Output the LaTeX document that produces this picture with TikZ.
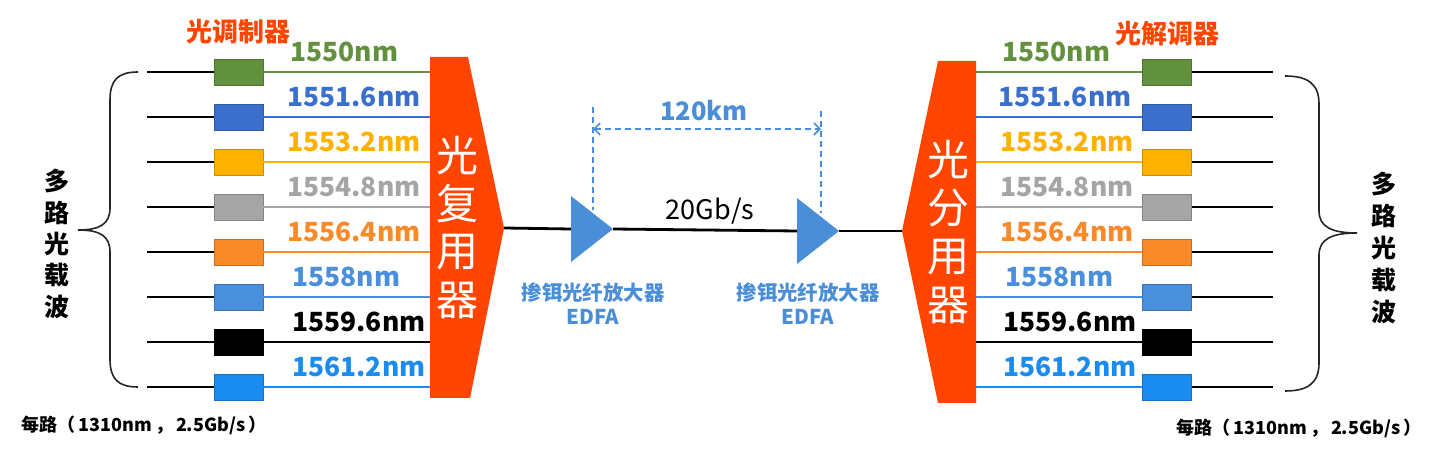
\documentclass[tikz,border=0pt]{standalone}
\usepackage{fontspec}
\setmainfont{Noto Sans CJK SC}
\usetikzlibrary{arrows.meta}
\definecolor{cgreen}{HTML}{62913E}
\definecolor{cblue}{HTML}{3A6FCC}
\definecolor{cyellow}{HTML}{FFB100}
\definecolor{cgray}{HTML}{A5A5A5}
\definecolor{corange}{HTML}{FA8A28}
\definecolor{clblue}{HTML}{4A8FDB}
\definecolor{cblack}{HTML}{000000}
\definecolor{cbblue}{HTML}{1A8CF0}
\definecolor{cred}{HTML}{FF4500}
\definecolor{cedfa}{HTML}{4A8ED8}
\tikzset{
  box/.style={minimum width=24.5pt,minimum height=13pt,inner sep=0pt,line width=0.4pt},
  blk/.style={line width=1.4pt,black},
  wl/.style={font=\bfseries\fontsize{13.2}{15}\selectfont,inner sep=0pt},
  muxtxt/.style={font=\fontsize{21}{22}\selectfont,text=white,inner sep=0pt},
  vtxt/.style={font=\bfseries\fontsize{12.5}{13}\selectfont,inner sep=0pt},
  modtxt/.style={font=\bfseries\fontsize{13}{14}\selectfont,text=cred,inner sep=0pt},
  edfatxt/.style={font=\bfseries\fontsize{10.2}{11}\selectfont,text=cedfa,inner sep=0pt},
  dim/.style={cedfa,line width=0.8pt,dash pattern=on 3pt off 2pt},
  bottxt/.style={font=\bfseries\fontsize{9}{10}\selectfont,inner sep=0pt},
  brc/.style={line width=0.8pt,black!85}
}
\begin{document}
\begin{tikzpicture}[x=0.5pt,y=-0.5pt]
\useasboundingbox (0,0) rectangle (1440,453);
\fill[white] (0,0) rectangle (1440,453);
% multiplexer and demultiplexer
\fill[cred] (430,57) -- (468,57) -- (504,228) -- (470,398) -- (430,398) -- cycle;
\coordinate (muxtip) at (504,228);
\fill[cred] (938,61) -- (976,61) -- (976,403) -- (938,403) -- (902,231) -- cycle;
\coordinate (dmxtip) at (902,231);
\foreach \c/\yy in {光/156,复/204,用/252,器/300} \node[muxtxt] at (457,\yy) {\c};
\foreach \c/\yy in {光/160,分/208,用/257,器/305} \node[muxtxt] at (948,\yy) {\c};
% rows
\foreach \i/\col/\lab/\lx/\rx in {0/cgreen/1550nm/290/1002,1/cblue/1551.6nm/287/998,2/cyellow/1553.2nm/287/1000,3/cgray/1554.8nm/287/1000,4/corange/1556.4nm/287/1000,5/clblue/1558nm/292/1005,6/cblack/1559.6nm/292/1003,7/cbblue/1561.2nm/292/1003}{
  \pgfmathsetmacro\yy{72+45*\i}
  \node[box,fill=\col,draw=\col!80!black] (bl\i) at (238.5,\yy) {};
  \coordinate (sl\i) at (147,\yy);
  \coordinate (ml\i) at (430,\yy);
  \draw[blk] (sl\i) -- (bl\i.west);
  \draw[line width=1.1pt,\col] (bl\i.east) -- (ml\i);
  \node[wl,text=\col,anchor=base west] (ll\i) at (\lx,\yy-10) {\lab};
  \node[box,fill=\col,draw=\col!80!black] (br\i) at (1167,\yy) {};
  \coordinate (mr\i) at (976,\yy);
  \coordinate (er\i) at (1273,\yy);
  \draw[line width=1.1pt,\col] (mr\i) -- (br\i.west);
  \draw[blk] (br\i.east) -- (er\i);
  \node[wl,text=\col,anchor=base west] (lr\i) at (\rx,\yy-10) {\lab};
}
% modulators labels
\node[modtxt] (mod) at (238,32) {光调制器};
\node[modtxt] (demod) at (1167,34) {光解调器};
% EDFAs
\fill[cedfa] (571,196) -- (613,229) -- (571,262) -- cycle;
\coordinate (e1w) at (571,229); \coordinate (e1e) at (613,229);
\fill[cedfa] (797,198) -- (839,231) -- (797,264) -- cycle;
\coordinate (e2w) at (797,231); \coordinate (e2e) at (839,231);
\draw[blk] (muxtip) -- (e1w);
\draw[blk] (e1e) -- (e2w);
\draw[blk] (e2e) -- (dmxtip);
\node[font=\fontsize{13.5}{14}\selectfont,inner sep=0pt] (rate) at (710,211) {20Gb/s};
\node[edfatxt] (ed1a) at (593,293) {掺铒光纤放大器};
\node[edfatxt] (ed1b) at (593,317) {EDFA};
\node[edfatxt] (ed2a) at (808,293) {掺铒光纤放大器};
\node[edfatxt] (ed2b) at (808,317) {EDFA};
% dimension
\coordinate (d1t) at (593,107); \coordinate (d1b) at (593,210);
\coordinate (d2t) at (821,111); \coordinate (d2b) at (821,213);
\coordinate (a1) at (593,129); \coordinate (a2) at (821,129);
\draw[dim] (d1t) -- (d1b);
\draw[dim] (d2t) -- (d2b);
\draw[dim,{Straight Barb[length=3pt,width=6pt]}-{Straight Barb[length=3pt,width=6pt]}] (a1) -- (a2);
\node[font=\bfseries\fontsize{12.7}{13}\selectfont,text=cedfa,inner sep=0pt] (dist) at (704,111) {120km};
% braces
\draw[brc] (138,72) .. controls (118,72) and (110,80) .. (110,100) -- (110,208)
  .. controls (110,224) and (100,230) .. (78,230)
  .. controls (100,230) and (110,236) .. (110,252) -- (110,359)
  .. controls (110,379) and (118,387) .. (138,387);
\draw[brc] (1285,76) .. controls (1308,76) and (1319,84) .. (1319,104) -- (1319,211)
  .. controls (1319,227) and (1332,233) .. (1357,233)
  .. controls (1332,233) and (1319,239) .. (1319,255) -- (1319,363)
  .. controls (1319,383) and (1308,391) .. (1285,391);
\foreach \c [count=\k from 0] in {多,路,光,载,波}{
  \node[vtxt] at (57,181+31.5*\k) {\c};
  \node[vtxt] at (1384,184+32*\k) {\c};
}
\node[bottxt] (botl) at (144,425) {每路（\,1310nm\,，\,2.5Gb/s\,）};
\node[bottxt] (botr) at (1299,428) {每路（\,1310nm\,，\,2.5Gb/s\,）};
\end{tikzpicture}
\end{document}
